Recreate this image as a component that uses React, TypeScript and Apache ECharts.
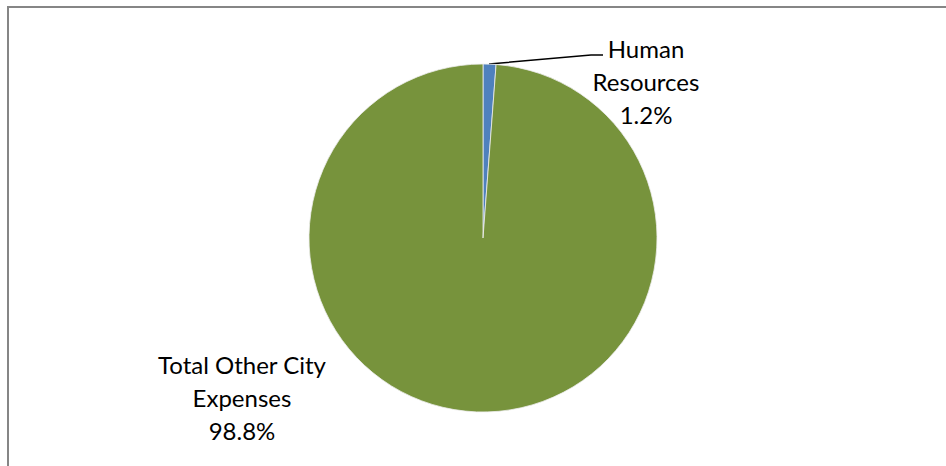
import React, { useEffect, useRef } from "react";
import * as echarts from "echarts";

// Share of city expenses
const categories = ["Human Resources", "Total Other City Expenses"];
const values = [1.2, 98.8];
const labelLines = [["Human", "Resources"], ["Total Other City", "Expenses"]];
const colors = ["#4F81BD", "#77933C"];

export default function App() {
  const ref = useRef<HTMLDivElement>(null);

  useEffect(() => {
    document.body.style.margin = "0";
    if (!ref.current) return;
    const chart = echarts.init(ref.current, undefined, { renderer: "svg" });
    const cx = 483;
    const cy = 238;
    const r = 174;

    chart.setOption({
      animation: false,
      backgroundColor: "#ffffff",
      graphic: [
        { type: "line", shape: { x1: 7, y1: 7, x2: 946, y2: 7 }, style: { stroke: "#868686", lineWidth: 2 } },
        { type: "line", shape: { x1: 8, y1: 6, x2: 8, y2: 466 }, style: { stroke: "#868686", lineWidth: 2 } },
      ],
      series: [
        {
          type: "pie",
          center: [cx, cy],
          radius: r,
          startAngle: 90,
          clockwise: true,
          itemStyle: { borderColor: "#eeeeee", borderWidth: 0.8 },
          label: {
            show: true,
            position: "outside",
            fontFamily: "Lato, 'Noto Sans', sans-serif",
            fontSize: 24,
            lineHeight: 33,
            color: "#000000",
            align: "center",
            formatter: (p: any) =>
              labelLines[p.dataIndex].join("\n") + "\n" + p.percent.toFixed(1) + "%",
          },
          labelLine: { show: true, lineStyle: { color: "#000000", width: 1.5 }, length: 10, length2: 10 },
          labelLayout: (params: any) => {
            if (params.dataIndex === 0) {
              return {
                x: 646,
                y: 81,
                align: "center",
                verticalAlign: "middle",
                labelLinePoints: [
                  [489, 64],
                  [591, 55],
                  [603, 55],
                ],
              };
            }
            return {
              x: 242,
              y: 397,
              align: "center",
              verticalAlign: "middle",
              labelLinePoints: [
                [242, 397],
                [242, 397],
                [242, 397],
              ],
            };
          },
          data: categories.map((name, i) => ({
            name,
            value: values[i],
            itemStyle: { color: colors[i] },
            labelLine: { show: i === 0 },
          })),
        },
      ],
    });

    return () => chart.dispose();
  }, []);

  return (
    <div
      ref={ref}
      style={{ position: "absolute", left: 0, top: 0, width: 946, height: 466 }}
    />
  );
}
